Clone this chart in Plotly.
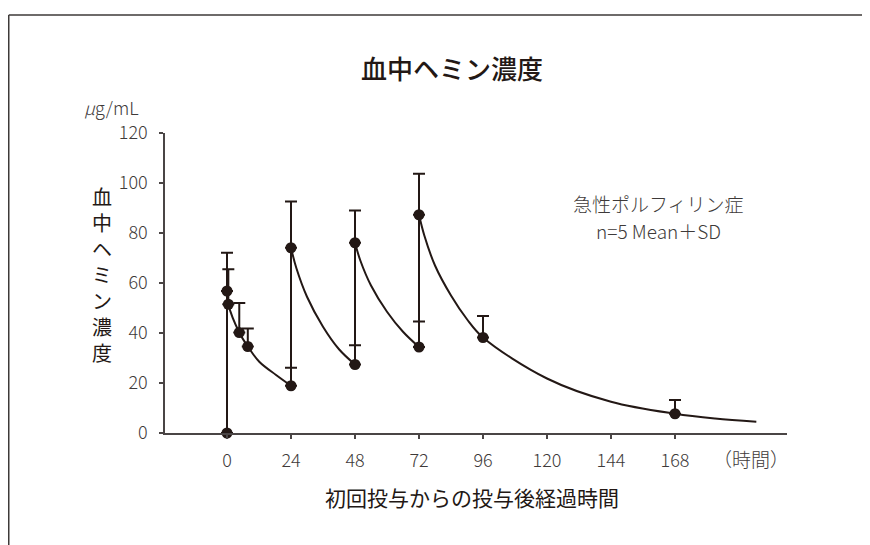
import plotly.graph_objects as go

# ---- data ----
time_h = [0, 0, 0.5, 4.6, 7.8, 24, 24, 48, 48, 72, 72, 96, 168]
mean_conc = [0, 56.8, 51.5, 40.2, 34.6, 18.9, 74.1, 27.4, 76.1, 34.4, 87.3, 38.2, 7.7]
sd_conc = [0, 15.3, 14.0, 11.8, 7.2, 7.2, 18.5, 7.7, 12.9, 10.2, 16.4, 8.6, 5.5]

# fitted curve, decay segments after each dose
seg1_t = [0, 0.5, 4.6, 7.8, 12.1, 18.4, 24]
seg1_c = [56.8, 51.5, 40.2, 34.6, 28.5, 23.2, 18.9]
seg2_t = [24, 26, 30, 36, 42, 48]
seg2_c = [74.1, 66.0, 54.5, 42.5, 33.5, 27.4]
seg3_t = [48, 50, 54, 60, 66, 72]
seg3_c = [76.1, 69.0, 59.0, 48.5, 40.5, 34.4]
seg4_t = [72, 74, 78, 84, 90, 96, 120, 144, 168, 183, 198.5]
seg4_c = [87.3, 79.0, 67.0, 55.0, 45.5, 38.2, 21.8, 12.5, 7.7, 5.8, 4.5]

# dose jumps (trough -> peak at dosing time)
jump_t = [0, 24, 48, 72]
jump_lo = [0, 18.9, 27.4, 34.4]
jump_hi = [56.8, 74.1, 76.1, 87.3]

x_ticks = [0, 24, 48, 72, 96, 120, 144, 168]
y_ticks = [0, 20, 40, 60, 80, 100, 120]

title_text = "血中ヘミン濃度"
y_title = "血中ヘミン濃度"
x_title = "初回投与からの投与後経過時間"
unit_text = "<i>μ</i>g/mL"
x_unit = "（時間）"
note1 = "急性ポルフィリン症"
note2 = "n=5 Mean＋SD"

INK = "#231815"
AX = "#4a4545"
TXT = "#3e3a39"
FONT = "Noto Sans CJK JP"

OFF = 8  # page body margin
W, H = 862, 537
L, R, T, B = 157, 83, 125, 112


def xp(page_x):
    return (page_x - OFF - L) / (W - L - R)


def yp(page_y):
    return (H - B - (page_y - OFF)) / (H - T - B)


fig = go.Figure()

for ts, cs in [(seg1_t, seg1_c), (seg2_t, seg2_c), (seg3_t, seg3_c), (seg4_t, seg4_c)]:
    fig.add_trace(go.Scatter(x=ts, y=cs, mode="lines",
                             line=dict(color=INK, width=2, shape="spline", smoothing=1.0),
                             hoverinfo="skip", showlegend=False, cliponaxis=False))

for t, lo, hi in zip(jump_t, jump_lo, jump_hi):
    fig.add_trace(go.Scatter(x=[t, t], y=[lo, hi], mode="lines",
                             line=dict(color=INK, width=2),
                             hoverinfo="skip", showlegend=False, cliponaxis=False))

fig.add_trace(go.Scatter(
    x=time_h, y=mean_conc, mode="markers",
    marker=dict(size=11, color=INK),
    error_y=dict(type="data", symmetric=False, array=sd_conc,
                 arrayminus=[0] * len(sd_conc), width=6, thickness=2, color=INK),
    showlegend=False, cliponaxis=False))

tick_font = dict(family=FONT, size=18, color=TXT, weight=300)

fig.update_xaxes(range=[-23.25, 210], tickvals=x_ticks, ticktext=[str(v) for v in x_ticks],
                 showline=True, linecolor=AX, linewidth=1.5, ticks="outside",
                 ticklen=4, tickwidth=1.5, tickcolor=AX, showgrid=False, zeroline=False,
                 tickfont=tick_font, ticklabelstandoff=7)
fig.update_yaxes(range=[0, 120], tickvals=y_ticks, showline=True, linecolor=AX,
                 linewidth=1.5, ticks="outside", ticklen=4, tickwidth=1.5, tickcolor=AX,
                 showgrid=False, zeroline=False, tickfont=tick_font, ticklabelstandoff=8)

ann = []
ann.append(dict(x=xp(452), y=yp(67), text=title_text,
                font=dict(family=FONT, size=26, color=INK, weight=500)))
ann.append(dict(x=xp(111), y=yp(107), text=unit_text,
                font=dict(family=FONT, size=18, color=TXT, weight=300)))
ann.append(dict(x=xp(102), y=yp(274), text="<br>".join(y_title),
                font=dict(family=FONT, size=20, color=INK, weight=400)))
ann.append(dict(x=xp(472), y=yp(497), text=x_title,
                font=dict(family=FONT, size=21, color=INK, weight=400)))
ann.append(dict(x=xp(751), y=yp(458), text=x_unit,
                font=dict(family=FONT, size=19, color=TXT, weight=300)))
ann.append(dict(x=xp(658), y=yp(203), text=note1,
                font=dict(family=FONT, size=19, color=TXT, weight=300)))
ann.append(dict(x=xp(658), y=yp(230), text=note2,
                font=dict(family=FONT, size=19, color=TXT, weight=300)))
for a in ann:
    a.update(xref="paper", yref="paper", showarrow=False, xanchor="center", yanchor="middle")

shapes = [
    dict(type="line", xref="paper", yref="paper", x0=xp(8.75), y0=yp(15), x1=xp(872), y1=yp(15),
         line=dict(color=TXT, width=1.5)),
    dict(type="line", xref="paper", yref="paper", x0=xp(8.75), y0=yp(15), x1=xp(8.75), y1=yp(547),
         line=dict(color=TXT, width=1.5)),
]

fig.update_layout(width=W, height=H, margin=dict(l=L, r=R, t=T, b=B),
                  paper_bgcolor="white", plot_bgcolor="white",
                  annotations=ann, shapes=shapes, showlegend=False)

fig.write_html("out.html")
